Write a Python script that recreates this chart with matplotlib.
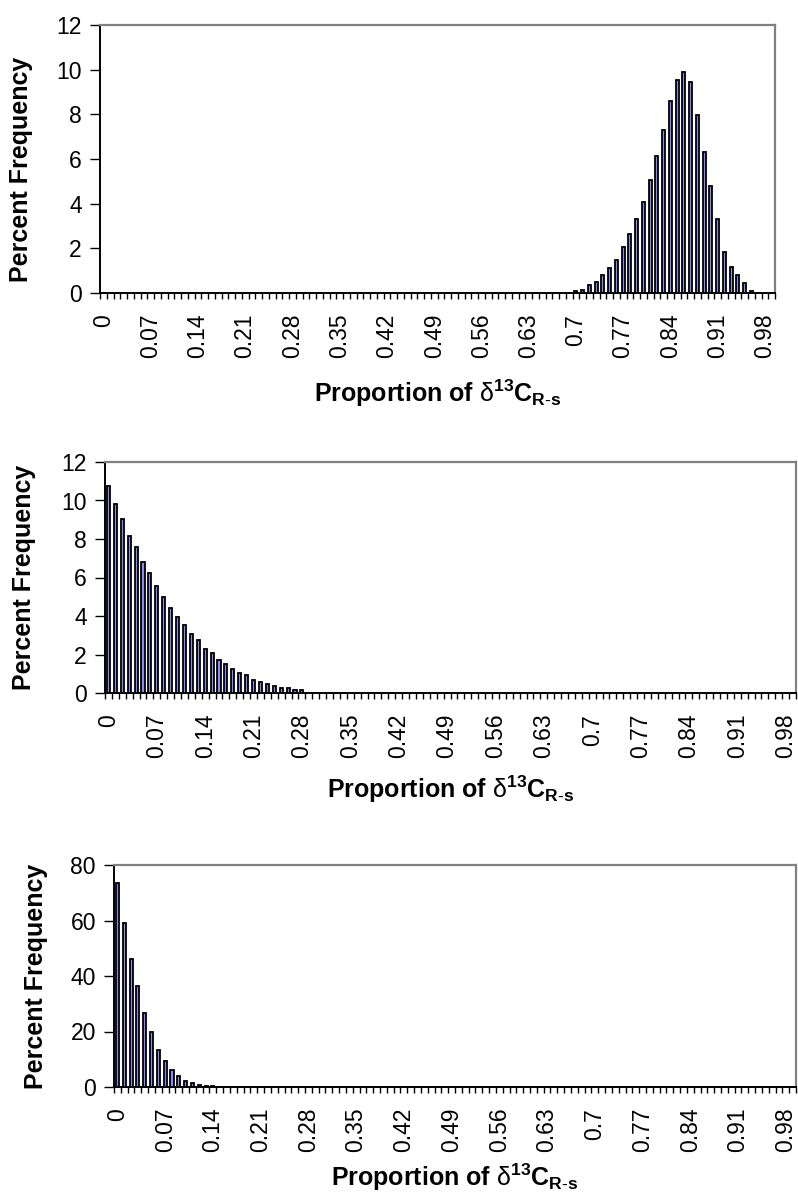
import numpy as np
import matplotlib
matplotlib.use("Agg")
import matplotlib.pyplot as plt

plt.rcParams['font.family'] = 'Liberation Sans'
plt.rcParams['mathtext.fontset'] = 'custom'
plt.rcParams['mathtext.rm'] = 'Liberation Sans'
plt.rcParams['mathtext.bf'] = 'Liberation Sans:bold'
plt.rcParams['mathtext.it'] = 'Liberation Sans:italic'

# proportion bins 0.00 .. 0.99, labelled every 7th bin
proportion = [round(i * 0.01, 2) for i in range(100)]
label_every = 7

# percent frequency per bin (bins not listed are zero)
top_first_bin = 70
top_freq = [0.07, 0.15, 0.34, 0.51, 0.79, 1.13, 1.49, 2.06, 2.66, 3.30,
            4.07, 5.07, 6.15, 7.31, 8.58, 9.55, 9.90, 9.45, 7.96, 6.31,
            4.81, 3.30, 1.85, 1.15, 0.79, 0.43, 0.07]

mid_first_bin = 0
mid_freq = [10.74, 9.83, 9.05, 8.15, 7.60, 6.80, 6.23, 5.56, 4.99, 4.42,
            3.97, 3.52, 3.07, 2.75, 2.28, 2.06, 1.71, 1.50, 1.26, 1.02,
            0.92, 0.69, 0.59, 0.45, 0.36, 0.24, 0.24, 0.14, 0.14]

low_first_bin = 0
low_freq = [73.6, 59.0, 46.1, 36.3, 26.8, 19.8, 13.5, 9.3, 6.3, 3.9,
            2.3, 1.3, 0.8, 0.4, 0.2]

W, H = 798, 1199
fig = plt.figure(figsize=(W / 100, H / 100), dpi=100)


def full_series(first, vals):
    out = np.zeros(len(proportion))
    out[first:first + len(vals)] = vals
    return out


def draw_panel(box, first, vals, ymax, ystep, ylab_x, ylab_y, xlab_off):
    left, right, top, bottom = box
    ax = fig.add_axes([left / W, 1 - bottom / H, (right - left) / W, (bottom - top) / H])
    n = len(proportion)
    x = np.arange(n)
    ax.bar(x, full_series(first, vals), width=0.45, color='#8c8cf0',
           edgecolor='black', linewidth=1.3)
    ax.set_xlim(-0.5, n - 0.5)
    ax.set_ylim(0, ymax)
    ax.set_yticks(np.arange(0, ymax + 1, ystep))

    idx = x[::label_every]
    ax.set_xticks(idx)
    ax.set_xticklabels([f"{proportion[i]:g}" for i in idx], rotation=90, va='top')
    ax.set_xticks(np.arange(-0.5, n, 1), minor=True)
    ax.tick_params(axis='x', which='major', length=0, pad=15, labelsize=16.5)
    ax.tick_params(axis='x', which='minor', length=4.5, width=1, direction='out')
    ax.tick_params(axis='y', length=7, width=1, pad=6, labelsize=16.5)

    for s in ('left', 'bottom'):
        ax.spines[s].set_color('black')
        ax.spines[s].set_linewidth(1.4)
    for s in ('top', 'right'):
        ax.spines[s].set_color('#808080')
        ax.spines[s].set_linewidth(1.6)

    ax.set_ylabel('Percent Frequency', fontsize=18, fontweight='bold', va='center')
    ax.yaxis.set_label_coords((ylab_x - left) / (right - left), ylab_y)
    ax.set_xlabel(r'Proportion of $\mathrm{\delta}^{\mathbf{13}}\mathbf{C}_{\mathbf{R\text{-}s}}$',
                  fontsize=18, fontweight='bold', va='center')
    ax.xaxis.set_label_coords(0.5, -xlab_off / (bottom - top))
    return ax


draw_panel((100, 775, 25, 293), top_first_bin, top_freq, 12, 2, 21, 0.46, 100)
draw_panel((105, 796, 462, 693), mid_first_bin, mid_freq, 12, 2, 24, 0.5, 96)
draw_panel((114, 796, 865, 1087), low_first_bin, low_freq, 80, 20, 36, 0.5, 90)

fig.savefig('out.png', dpi=100)
